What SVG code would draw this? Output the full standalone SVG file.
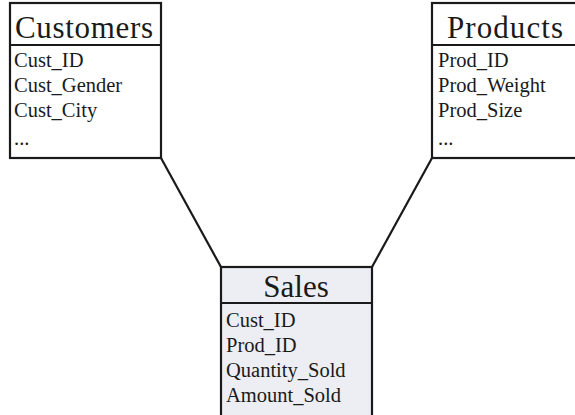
<svg xmlns="http://www.w3.org/2000/svg" width="575" height="415" viewBox="0 0 575 415">
  <style>
    .box { fill: #ffffff; stroke: #1a1a1a; stroke-width: 2.2; }
    .fact { fill: #eceef3; }
    .div { stroke: #1a1a1a; stroke-width: 2.2; }
    .link { stroke: #1a1a1a; stroke-width: 2.2; fill: none; }
    text { font-family: 'Liberation Serif', 'Times New Roman', Times, 'DejaVu Serif', 'Noto Serif', serif; fill: #1a1a1a; }
    .title { font-size: 31px; text-anchor: middle; }
    .field { font-size: 20.5px; }
  </style>

  <g id="connectors">
    <line class="link" x1="161" y1="158" x2="221" y2="267"/>
    <line class="link" x1="432" y1="158" x2="372" y2="267"/>
  </g>

  <g id="customers">
    <rect class="box" x="10" y="3" width="151" height="155"/>
    <line class="div" x1="10" y1="45" x2="161" y2="45"/>
    <text class="title" x="84" y="38" textLength="138">Customers</text>
    <text class="field" x="14" y="67">Cust_ID</text>
    <text class="field" x="14" y="92">Cust_Gender</text>
    <text class="field" x="14" y="117">Cust_City</text>
    <text class="field" x="14" y="145">...</text>
  </g>

  <g id="products">
    <rect class="box" x="432" y="3" width="160" height="155"/>
    <line class="div" x1="432" y1="45" x2="592" y2="45"/>
    <text class="title" x="505" y="38" textLength="116">Products</text>
    <text class="field" x="438" y="67">Prod_ID</text>
    <text class="field" x="438" y="92">Prod_Weight</text>
    <text class="field" x="438" y="117">Prod_Size</text>
    <text class="field" x="438" y="145">...</text>
  </g>

  <g id="sales">
    <rect class="box fact" x="221" y="267" width="151" height="160"/>
    <line class="div" x1="221" y1="303" x2="372" y2="303"/>
    <text class="title" x="296" y="297">Sales</text>
    <text class="field" x="226" y="327">Cust_ID</text>
    <text class="field" x="226" y="352">Prod_ID</text>
    <text class="field" x="226" y="377">Quantity_Sold</text>
    <text class="field" x="226" y="402">Amount_Sold</text>
  </g>
</svg>
